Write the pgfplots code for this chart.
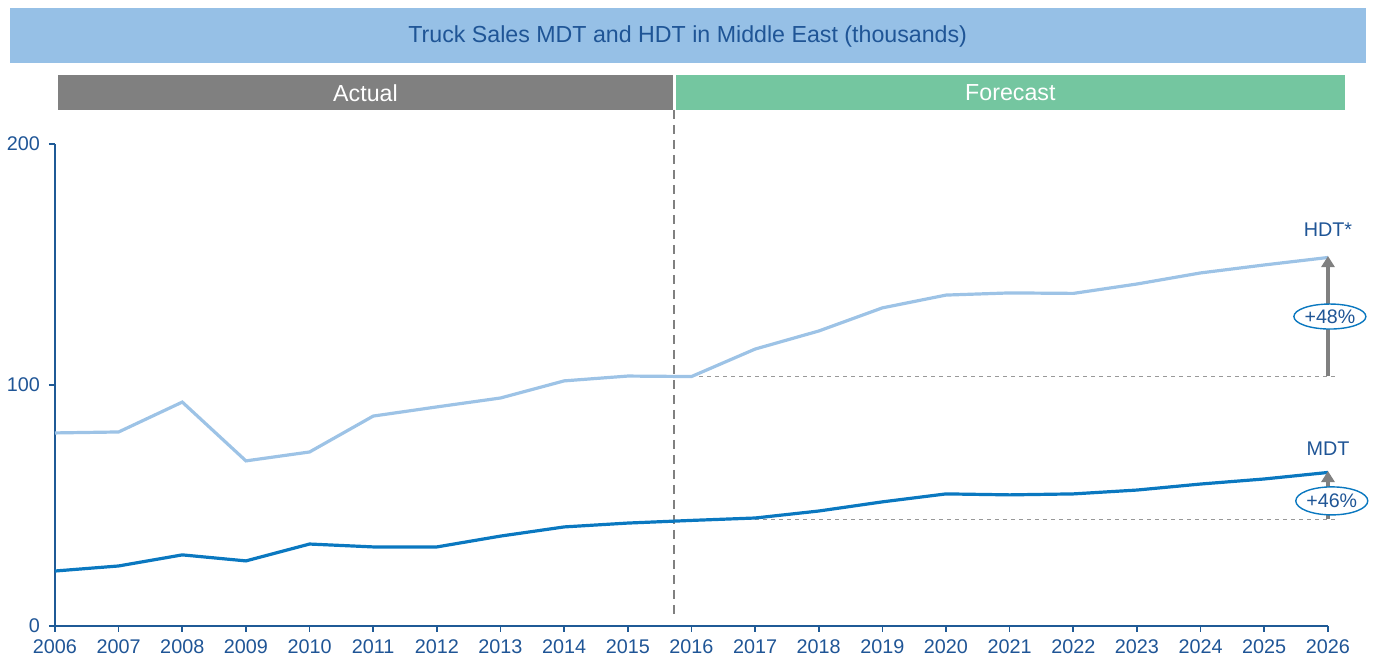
\documentclass[border=0pt]{standalone}
\usepackage{fontspec}
\setmainfont{Liberation Sans}
\usepackage{pgfplots}
\pgfplotsset{compat=1.18}
\usetikzlibrary{arrows.meta,shapes.geometric}
\definecolor{bannerblue}{HTML}{96C0E6}
\definecolor{darkblue}{HTML}{1F5596}
\definecolor{axblue}{HTML}{1F5A96}
\definecolor{actgray}{HTML}{808080}
\definecolor{fcgreen}{HTML}{74C6A0}
\definecolor{hdtc}{HTML}{9DC3E6}
\definecolor{mdtc}{HTML}{0A78C0}
\begin{document}
\begin{tikzpicture}
\begin{axis}[
  scale only axis,
  width=636.5pt, height=241pt,
  xmin=2006, xmax=2026, ymin=0, ymax=200,
  clip=false,
  axis x line*=bottom, axis y line*=left,
  axis line style={axblue, line width=1pt},
  xtick={2006,...,2026}, ytick={0,100,200},
  x tick label style={/pgf/number format/1000 sep={}},
  tick align=outside, major tick length=3pt,
  tick style={axblue, line width=0.8pt},
  ticklabel style={font=\fontsize{9.9}{11}\selectfont, text=darkblue},
  /pgf/number format/assume math mode=true,
  yticklabel style={xshift=-1pt},
  xticklabel style={yshift=-0.5pt},
]
% banners
\fill[bannerblue] (axis cs:2005.293,256.4) rectangle (axis cs:2026.597,233.6);
\node[text=darkblue, font=\fontsize{11.6}{13}\selectfont] at (axis cs:2015.94,244.6) {Truck Sales MDT and HDT in Middle East (thousands)};
\fill[actgray] (axis cs:2006.047,228.6) rectangle (axis cs:2015.709,214.1);
\node[text=white, font=\fontsize{11.6}{13}\selectfont] at (axis cs:2010.878,221.2) {Actual};
\fill[fcgreen] (axis cs:2015.757,228.6) rectangle (axis cs:2026.267,214.1);
\node[text=white, font=\fontsize{11.6}{13}\selectfont] at (axis cs:2021.01,221.2) {Forecast};
% vertical divider
\draw[actgray, line width=0.9pt, dash pattern=on 4.5pt off 3pt] (axis cs:2015.72,214.1) -- (axis cs:2015.72,2.5);
% reference lines
\draw[gray!80, line width=0.55pt, dash pattern=on 2pt off 2pt] (axis cs:2016,103.7) -- (axis cs:2026.15,103.7);
\draw[gray!80, line width=0.55pt, dash pattern=on 2pt off 2pt] (axis cs:2016,44.2) -- (axis cs:2026.15,44.2);
% data
\addplot[hdtc, line width=1.6pt, mark=none] coordinates {
(2006,80.1) (2007,80.5) (2008,92.9) (2009,68.5) (2010,72.2) (2011,87.1)
(2012,90.9) (2013,94.6) (2014,101.7) (2015,103.7) (2016,103.5) (2017,114.9)
(2018,122.4) (2019,132.0) (2020,137.3) (2021,138.2) (2022,138.0) (2023,141.9)
(2024,146.5) (2025,149.8) (2026,152.9)};
\addplot[mdtc, line width=1.6pt, mark=none] coordinates {
(2006,22.8) (2007,24.9) (2008,29.5) (2009,27.0) (2010,34.0) (2011,32.8)
(2012,32.8) (2013,37.3) (2014,41.1) (2015,42.7) (2016,43.8) (2017,44.8)
(2018,47.7) (2019,51.5) (2020,54.8) (2021,54.4) (2022,54.8) (2023,56.4)
(2024,58.9) (2025,61.0) (2026,63.7)};
% arrows
\draw[actgray, line width=2.3pt, -{Triangle[length=5.5pt,width=6.5pt]}] (axis cs:2026,103.7) -- (axis cs:2026,153.5);
\draw[actgray, line width=2.3pt, -{Triangle[length=5.5pt,width=6.5pt]}] (axis cs:2026,44.2) -- (axis cs:2026,64.3);
% labels
\node[text=darkblue, font=\fontsize{9.9}{11}\selectfont] at (axis cs:2026.0,164.3) {HDT*};
\node[text=darkblue, font=\fontsize{9.9}{11}\selectfont] at (axis cs:2026.0,73.4) {MDT};
\node[ellipse, draw=mdtc, fill=white, line width=0.7pt, minimum width=36pt, minimum height=12.5pt, inner sep=0pt, text=darkblue, font=\fontsize{9.8}{10}\selectfont] at (axis cs:2026.03,128.4) {+48\%};
\node[ellipse, draw=mdtc, fill=white, line width=0.7pt, minimum width=36pt, minimum height=14pt, inner sep=0pt, text=darkblue, font=\fontsize{9.8}{10}\selectfont] at (axis cs:2026.06,51.9) {+46\%};
% bounding
\coordinate (bbA) at (axis cs:2005.136,259.75);
\coordinate (bbB) at (axis cs:2026.786,-12.86);
\end{axis}
\pgfresetboundingbox
\path[use as bounding box] (bbA) rectangle (bbB);
\end{tikzpicture}
\end{document}
